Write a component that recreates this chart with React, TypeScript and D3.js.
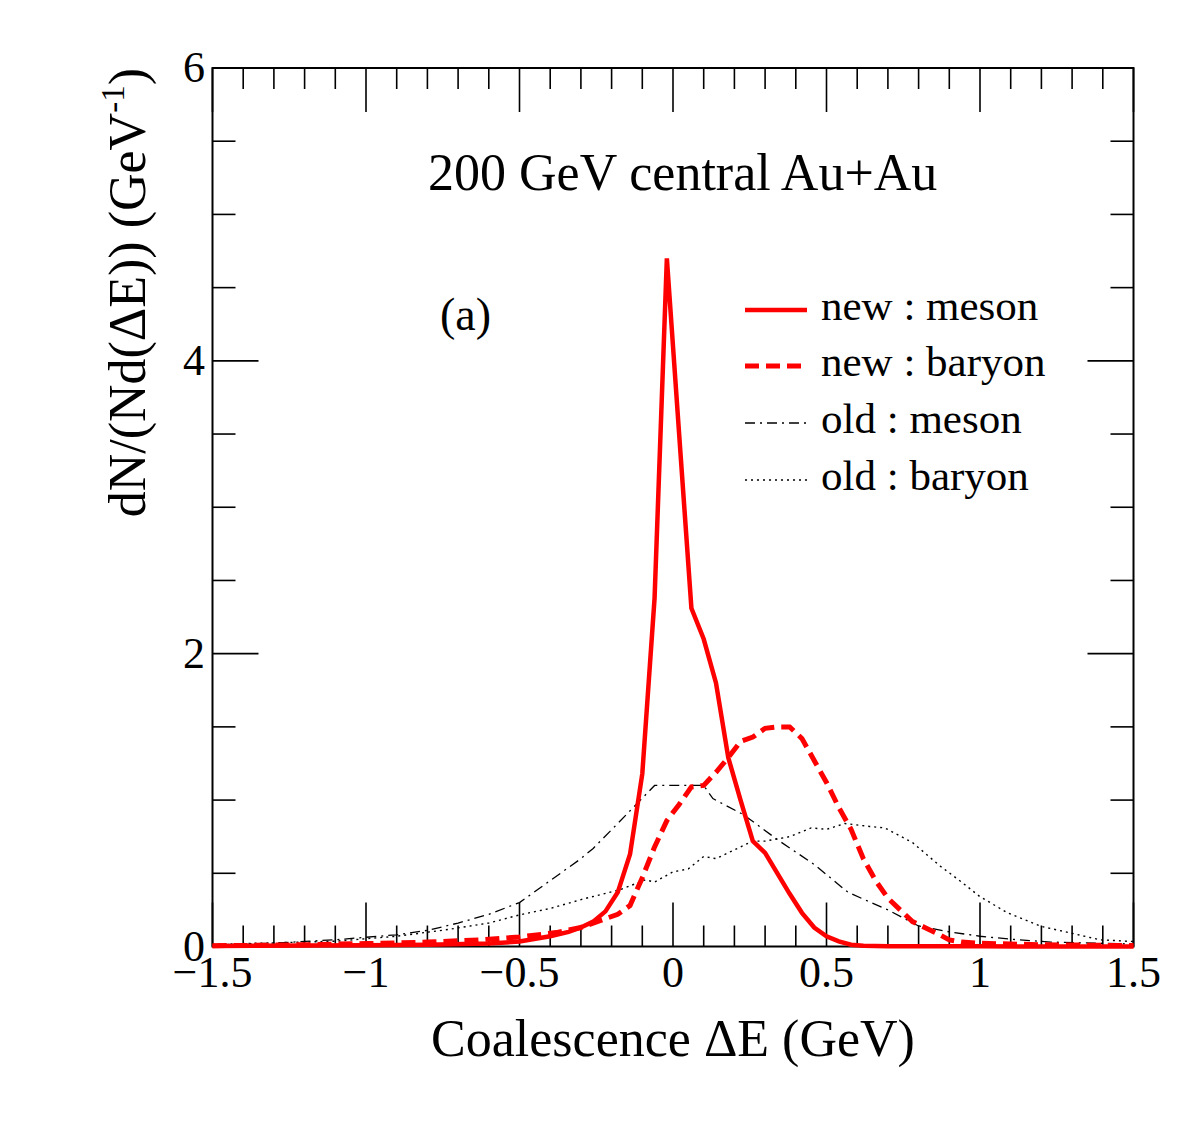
import React, { useEffect, useRef } from "react";
import * as d3 from "d3";

// coalescence energy difference (GeV) and dN/(N d(dE)) for each curve
const newMesonDE = [-1.5, -1.2, -1.0, -0.8, -0.6, -0.5, -0.4, -0.34, -0.3, -0.26, -0.22, -0.18, -0.14, -0.1, -0.06, -0.02, 0.02, 0.06, 0.1, 0.14, 0.18, 0.22, 0.26, 0.3, 0.34, 0.38, 0.42, 0.46, 0.5, 0.54, 0.58, 0.62, 0.7, 1.0, 1.5];
const newMesonN = [0.004, 0.006, 0.008, 0.012, 0.02, 0.034, 0.07, 0.1, 0.13, 0.17, 0.24, 0.37, 0.63, 1.18, 2.38, 4.7, 3.5, 2.31, 2.1, 1.8, 1.29, 1.0, 0.72, 0.64, 0.5, 0.36, 0.23, 0.13, 0.07, 0.035, 0.012, 0.005, 0.002, 0.001, 0.0];

const newBaryonDE = [-1.5, -1.2, -1.0, -0.8, -0.63, -0.5, -0.38, -0.3, -0.26, -0.22, -0.18, -0.14, -0.1, -0.06, -0.02, 0.02, 0.06, 0.1, 0.14, 0.18, 0.22, 0.26, 0.3, 0.34, 0.38, 0.42, 0.46, 0.5, 0.54, 0.58, 0.62, 0.66, 0.7, 0.74, 0.78, 0.82, 0.86, 0.9, 0.94, 1.0, 1.2, 1.5];
const newBaryonN = [0.005, 0.012, 0.02, 0.03, 0.045, 0.065, 0.095, 0.13, 0.16, 0.19, 0.22, 0.28, 0.47, 0.68, 0.86, 0.97, 1.09, 1.1, 1.19, 1.29, 1.4, 1.43, 1.49, 1.5, 1.5, 1.42, 1.27, 1.12, 0.95, 0.8, 0.6, 0.45, 0.33, 0.25, 0.17, 0.13, 0.09, 0.045, 0.03, 0.022, 0.012, 0.006];

const oldMesonDE = [-1.5, -1.3, -1.1, -0.9, -0.8, -0.7, -0.6, -0.5, -0.4, -0.3, -0.26, -0.18, -0.12, -0.06, 0.1, 0.13, 0.23, 0.34, 0.46, 0.57, 0.7, 0.8, 0.9, 1.0, 1.1, 1.23, 1.5];
const oldMesonN = [0.012, 0.023, 0.046, 0.08, 0.11, 0.16, 0.22, 0.3, 0.45, 0.6, 0.67, 0.84, 0.97, 1.1, 1.1, 1.01, 0.9, 0.73, 0.56, 0.37, 0.25, 0.14, 0.1, 0.07, 0.05, 0.03, 0.017];

const oldBaryonDE = [-1.5, -1.3, -1.1, -0.9, -0.74, -0.6, -0.5, -0.4, -0.3, -0.17, -0.09, -0.06, 0.0, 0.05, 0.1, 0.14, 0.26, 0.3, 0.38, 0.45, 0.5, 0.56, 0.64, 0.69, 0.78, 0.87, 0.94, 1.0, 1.09, 1.2, 1.3, 1.39, 1.5];
const oldBaryonN = [0.015, 0.025, 0.036, 0.07, 0.114, 0.16, 0.216, 0.26, 0.32, 0.39, 0.455, 0.44, 0.51, 0.53, 0.615, 0.6, 0.72, 0.72, 0.75, 0.81, 0.8, 0.84, 0.82, 0.81, 0.71, 0.55, 0.44, 0.34, 0.23, 0.137, 0.09, 0.046, 0.034];

const xTickValues = [-1.5, -1, -0.5, 0, 0.5, 1, 1.5];
const yTickValues = [0, 2, 4, 6];
const legendLabels = ["new : meson", "new : baryon", "old : meson", "old : baryon"];

const FONT = "'Liberation Serif', 'Times New Roman', serif";

const App = () => {
  const chartRef = useRef<SVGSVGElement>(null);

  useEffect(() => {
    drawChart();
  }, []);

  const drawChart = () => {
    const width = 1182;
    const height = 1128;
    const frame = { left: 212.5, right: 1133.5, top: 68, bottom: 946.5 };

    const svg = d3.select(chartRef.current);
    svg.selectAll("*").remove();
    svg.attr("width", width).attr("height", height);

    svg.append("rect").attr("width", width).attr("height", height).attr("fill", "#fff");

    const x = d3.scaleLinear().domain([-1.5, 1.5]).range([frame.left, frame.right]);
    const y = d3.scaleLinear().domain([0, 6]).range([frame.bottom, frame.top]);

    // frame
    svg
      .append("rect")
      .attr("x", frame.left)
      .attr("y", frame.top)
      .attr("width", frame.right - frame.left)
      .attr("height", frame.bottom - frame.top)
      .attr("fill", "none")
      .attr("stroke", "#000")
      .attr("stroke-width", 2);

    // ticks on all four sides, pointing inward
    const xMinor = d3.range(-15, 16).map((i) => i / 10);
    const yMinor = d3.range(0, 13).map((i) => i / 2);
    const ticks = svg.append("g").attr("stroke", "#000").attr("stroke-width", 1.6);

    xMinor.forEach((v) => {
      const major = xTickValues.some((t) => Math.abs(t - v) < 1e-6);
      const len = major ? 44 : 21;
      ticks.append("line").attr("x1", x(v)).attr("x2", x(v)).attr("y1", frame.bottom).attr("y2", frame.bottom - len);
      ticks.append("line").attr("x1", x(v)).attr("x2", x(v)).attr("y1", frame.top).attr("y2", frame.top + len);
    });
    yMinor.forEach((v) => {
      const major = yTickValues.some((t) => Math.abs(t - v) < 1e-6);
      const len = major ? 46 : 23;
      ticks.append("line").attr("y1", y(v)).attr("y2", y(v)).attr("x1", frame.left).attr("x2", frame.left + len);
      ticks.append("line").attr("y1", y(v)).attr("y2", y(v)).attr("x1", frame.right).attr("x2", frame.right - len);
    });

    const fmt = (d: number) => (d < 0 ? "\u2212" + String(-d) : String(d));

    svg
      .append("g")
      .selectAll("text")
      .data(xTickValues)
      .enter()
      .append("text")
      .attr("x", (d) => x(d))
      .attr("y", 987)
      .attr("text-anchor", "middle")
      .attr("font-family", FONT)
      .attr("font-size", 44)
      .text(fmt);

    svg
      .append("g")
      .selectAll("text")
      .data(yTickValues)
      .enter()
      .append("text")
      .attr("x", 205)
      .attr("y", (d) => y(d) + 14)
      .attr("text-anchor", "end")
      .attr("font-family", FONT)
      .attr("font-size", 44)
      .text((d) => String(d));

    // axis titles
    svg
      .append("text")
      .attr("x", (frame.left + frame.right) / 2)
      .attr("y", 1056)
      .attr("text-anchor", "middle")
      .attr("font-family", FONT)
      .attr("font-size", 52)
      .text("Coalescence \u0394E (GeV)");

    const yTitle = svg
      .append("text")
      .attr("transform", `translate(145,${frame.top}) rotate(-90)`)
      .attr("text-anchor", "end")
      .attr("font-family", FONT)
      .attr("font-size", 52);
    yTitle.append("tspan").text("dN/(Nd(\u0394E)) (GeV");
    yTitle.append("tspan").attr("font-size", 33).attr("dy", -21).text("-1");
    yTitle.append("tspan").attr("dy", 21).text(")");

    // labels inside the frame
    svg
      .append("text")
      .attr("x", 428)
      .attr("y", 190)
      .attr("font-family", FONT)
      .attr("font-size", 52)
      .text("200 GeV central Au+Au");

    svg
      .append("text")
      .attr("x", 440)
      .attr("y", 330)
      .attr("font-family", FONT)
      .attr("font-size", 46)
      .text("(a)");

    const series = [
      { xs: newMesonDE, ys: newMesonN, color: "#ff0000", width: 4.5, dash: null },
      { xs: newBaryonDE, ys: newBaryonN, color: "#ff0000", width: 5, dash: "14,7" },
      { xs: oldMesonDE, ys: oldMesonN, color: "#000", width: 1.3, dash: "10,5,2,5" },
      { xs: oldBaryonDE, ys: oldBaryonN, color: "#000", width: 1.4, dash: "2,4" },
    ];

    const line = d3
      .line<[number, number]>()
      .x((d) => x(d[0]))
      .y((d) => y(d[1]));

    series
      .slice()
      .reverse()
      .forEach((s) => {
        const pts = s.xs.map((v, i) => [v, s.ys[i]] as [number, number]);
        svg
          .append("path")
          .attr("d", line(pts))
          .attr("fill", "none")
          .attr("stroke", s.color)
          .attr("stroke-width", s.width)
          .attr("stroke-linejoin", "miter")
          .attr("stroke-dasharray", s.dash);
      });

    // legend
    const rowY = [310, 366, 423, 480];
    const legend = svg.append("g");
    series.forEach((s, i) => {
      legend
        .append("line")
        .attr("x1", 745)
        .attr("x2", 807)
        .attr("y1", rowY[i])
        .attr("y2", rowY[i])
        .attr("stroke", s.color)
        .attr("stroke-width", s.width)
        .attr("stroke-dasharray", s.dash);
      legend
        .append("text")
        .attr("x", 821)
        .attr("y", rowY[i] + 10)
        .attr("font-family", FONT)
        .attr("font-size", 43)
        .text(legendLabels[i]);
    });
  };

  return <svg ref={chartRef} style={{ position: "absolute", left: 0, top: 0 }}></svg>;
};

export default App;
